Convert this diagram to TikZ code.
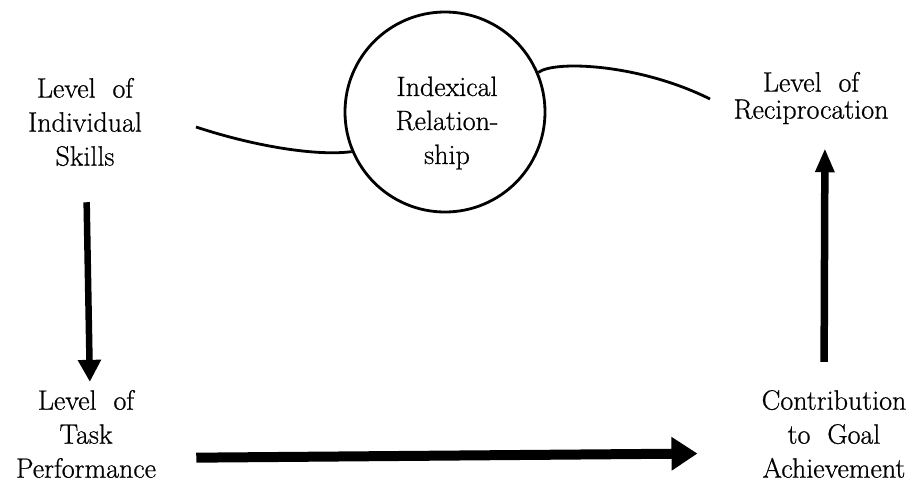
\documentclass[tikz,border=0pt]{standalone}
\usepackage{fontspec}
\setmainfont{Latin Modern Roman}[FakeBold=0.7]
\usepackage{tikz}
\usetikzlibrary{arrows.meta}

\begin{document}
\begin{tikzpicture}[x=1pt, y=-1pt, every node/.style={font=\fontsize{28}{34}\selectfont, align=center, inner sep=0pt},
	wire/.style={line width=2.8pt},
	fat/.style={line width=#1, line cap=butt}]
	\useasboundingbox (0,0) rectangle (921,490);
	\node (skills) at (85,122) {Level\ \ of\\Individual\\Skills};
	\node[draw, circle, line width=2.8pt, minimum size=200pt] (index) at (445,112) {};
	\node (indextext) at (447,123) {Indexical\\Relation-\\ship};
	\node[font=\fontsize{28}{27}\selectfont] (recip) at (811,98) {Level\ \ of\\Reciprocation};
	\node (task) at (86,434) {Level\ \ of\\Task\\Performance};
	\node (contrib) at (834,434) {Contribution\\to\ \ Goal\\Achievement};
	\coordinate (lstart) at (196,127);
	\coordinate (rend) at (710,99);
	\draw[wire] (lstart) .. controls (260,148) and (320,156) .. (index.203);
	\draw[wire] (index.23) .. controls (555,60) and (640,64) .. (rend);
	\draw[fat=6.5pt, -{Triangle[length=22pt, width=22pt]}, shorten <=36pt, shorten >=8pt] ([xshift=1pt]skills.south) -- ([xshift=4pt]task.north);
	\draw[fat=10pt, -{Triangle[length=26pt, width=32pt]}, shorten <=40pt, shorten >=64pt] ([yshift=-24pt]task.east) -- ([yshift=-19pt]contrib.west);
	\draw[fat=7.5pt, -{Triangle[length=24pt, width=18pt]}, shorten <=28pt, shorten >=24pt] ([xshift=-10pt]contrib.north) -- ([xshift=14pt]recip.south);
\end{tikzpicture}
\end{document}
